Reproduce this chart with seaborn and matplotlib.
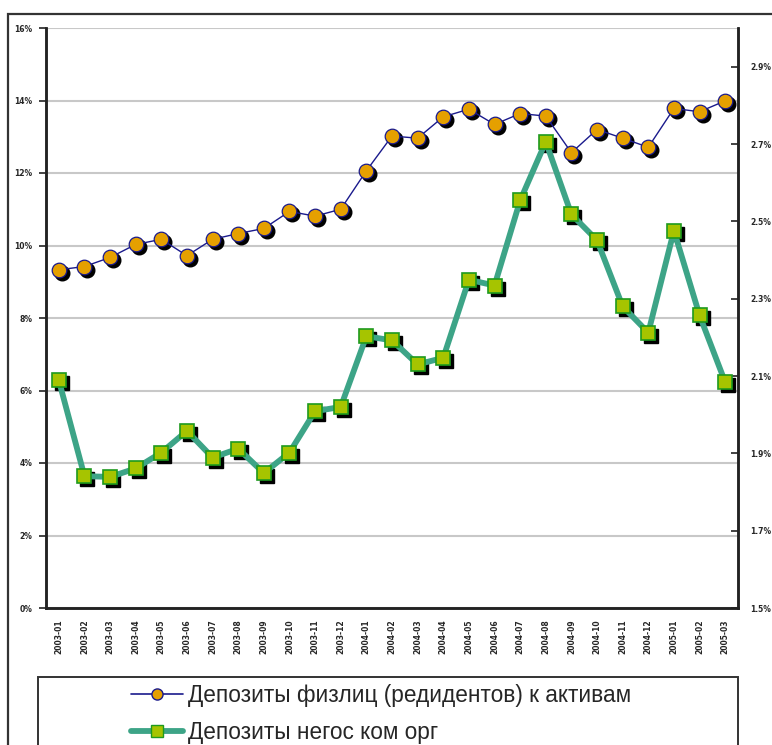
import matplotlib
matplotlib.use("Agg")
import matplotlib.pyplot as plt
import matplotlib.transforms as mtransforms
from matplotlib.lines import Line2D
from matplotlib.patches import Rectangle
from matplotlib.ticker import FixedLocator, FuncFormatter
import seaborn as sns
import pandas as pd

# monthly periods
months = ["2003-01", "2003-02", "2003-03", "2003-04", "2003-05", "2003-06",
          "2003-07", "2003-08", "2003-09", "2003-10", "2003-11", "2003-12",
          "2004-01", "2004-02", "2004-03", "2004-04", "2004-05", "2004-06",
          "2004-07", "2004-08", "2004-09", "2004-10", "2004-11", "2004-12",
          "2005-01", "2005-02", "2005-03"]

# household (resident) deposits to assets, % (left axis)
phys_deposits = [9.33, 9.42, 9.67, 10.03, 10.17, 9.72, 10.17, 10.33, 10.47,
                 10.94, 10.81, 11.00, 12.06, 13.02, 12.96, 13.55, 13.76, 13.34,
                 13.64, 13.57, 12.56, 13.20, 12.96, 12.71, 13.78, 13.69, 13.99]

# non-state commercial org deposits, % (right axis)
org_deposits = [2.089, 1.841, 1.839, 1.861, 1.902, 1.958, 1.889, 1.912, 1.849,
                1.902, 2.009, 2.020, 2.203, 2.192, 2.130, 2.147, 2.349, 2.334,
                2.554, 2.706, 2.518, 2.451, 2.280, 2.212, 2.476, 2.257, 2.084]

label_phys = "Депозиты физлиц (редидентов) к активам"
label_org = "Депозиты негос ком орг"

left_ticks = [0, 2, 4, 6, 8, 10, 12, 14, 16]
right_ticks = [1.5, 1.7, 1.9, 2.1, 2.3, 2.5, 2.7, 2.9]

df = pd.DataFrame({"x": range(len(months)), "phys": phys_deposits, "org": org_deposits})

sns.set_style("white")
plt.rcParams["font.family"] = ["DejaVu Sans"]

W, H = 772, 745
fig = plt.figure(figsize=(W / 100, H / 100), dpi=100)
ax = fig.add_axes([46 / W, 1 - 608 / H, (738 - 46) / W, (608 - 28) / H])
ax2 = ax.twinx()

# outer chart border (runs off the right / bottom edges)
fig.patches.append(Rectangle((8 / W, -0.1), 1.2, 1 - 14 / H + 0.1, transform=fig.transFigure,
                             fill=False, edgecolor="#333333", linewidth=1.6, zorder=0))

orange = "#E5A000"
navy = "#1A1A8C"
teal = "#3DA487"
lime = "#A6C400"
green_edge = "#1E9A1E"

shadow = mtransforms.offset_copy(ax.transData, fig=fig, x=3, y=-3, units="dots")
shadow2 = mtransforms.offset_copy(ax2.transData, fig=fig, x=3, y=-3, units="dots")

# left axis series
ax.plot(df["x"], df["phys"], linestyle="none", marker="o", markersize=10.5,
        color="black", transform=shadow, zorder=2)
sns.lineplot(data=df, x="x", y="phys", ax=ax, color=navy, linewidth=1.0,
             marker="o", markersize=10.5, markerfacecolor=orange,
             markeredgecolor=navy, markeredgewidth=0.9, zorder=3)

# right axis series
ax2.plot(df["x"], df["org"], linestyle="none", marker="s", markersize=9.5,
         color="black", transform=shadow2, zorder=2)
sns.lineplot(data=df, x="x", y="org", ax=ax2, color=teal, linewidth=4.2,
             marker="s", markersize=9.5, markerfacecolor=lime,
             markeredgecolor=green_edge, markeredgewidth=1.2, zorder=3)
ax2.lines[0].set_zorder(1)

ax.set_xlim(-0.5, len(months) - 0.5)
ax.set_ylim(0, 16)
ax2.set_ylim(1.5, 3.0)

ax.set_yticks(left_ticks)
ax.yaxis.set_major_formatter(FuncFormatter(lambda v, p: f"{v:.0f}%"))
ax2.set_yticks(right_ticks)
ax2.yaxis.set_major_formatter(FuncFormatter(lambda v, p: f"{v:.1f}%"))

ax.grid(axis="y", color="#C8C8C8", linewidth=1.5)
ax.set_axisbelow(True)

# category ticks between points, labels at points
ax.xaxis.set_major_locator(FixedLocator([i - 0.5 for i in range(len(months) + 1)]))
ax.xaxis.set_major_formatter(FuncFormatter(lambda v, p: ""))
ax.xaxis.set_minor_locator(FixedLocator(list(range(len(months)))))
ax.set_xticklabels(months, minor=True, rotation=90, fontsize=5.5, fontweight="bold")
ax.tick_params(axis="x", which="major", length=5, width=1.2, direction="out", color="#222222")
ax.tick_params(axis="x", which="minor", length=0, pad=8)

ax.tick_params(axis="y", length=5, width=1.2, direction="out", labelsize=5.5, pad=5, color="#222222")
ax2.tick_params(axis="y", length=5, width=1.2, direction="in", labelsize=5.5, pad=9, color="#222222")
for t in ax.get_yticklabels() + ax2.get_yticklabels():
    t.set_fontweight("bold")

ax.set_xlabel("")
ax.set_ylabel("")
ax2.set_xlabel("")
ax2.set_ylabel("")

for a in (ax, ax2):
    a.spines["top"].set_visible(False)
    for s in ("left", "right", "bottom"):
        a.spines[s].set_color("#222222")
        a.spines[s].set_linewidth(1.8)

# legend box (runs off the bottom edge)
fig.patches.append(Rectangle((38 / W, -0.1), (738 - 38) / W, 0.1 + 1 - 677 / H,
                             transform=fig.transFigure, fill=False,
                             edgecolor="#333333", linewidth=1.4, zorder=5))
handles = [
    Line2D([], [], color=navy, linewidth=1.2, marker="o", markersize=8,
           markerfacecolor=orange, markeredgecolor=navy),
    Line2D([], [], color=teal, linewidth=4.2, marker="s", markersize=8,
           markerfacecolor=lime, markeredgecolor=green_edge),
]
fig.legend(handles, [label_phys, label_org], loc="upper left",
           bbox_to_anchor=(131 / W, 1 - 684 / H), frameon=False,
           handlelength=2.3, handletextpad=0.2, borderpad=0, borderaxespad=0,
           labelspacing=0.6,
           prop={"family": ["Liberation Sans", "DejaVu Sans"], "size": 16.3})

fig.savefig("out.png", dpi=100)
